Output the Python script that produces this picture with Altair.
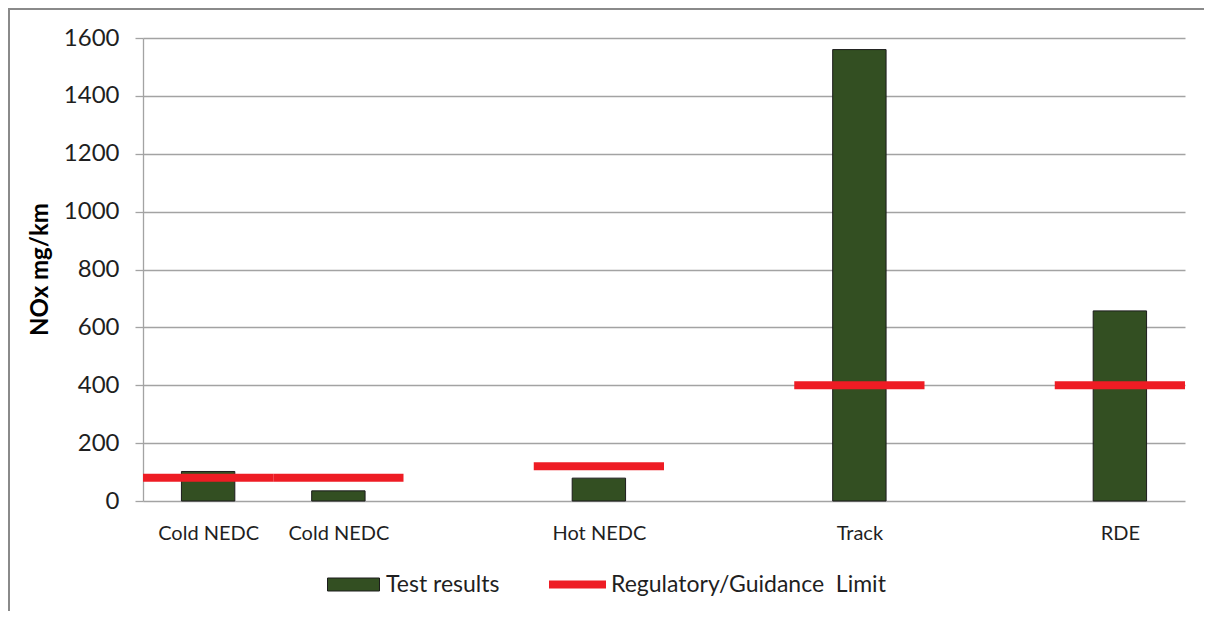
import altair as alt
import pandas as pd

# ---- data ----
slot_labels = ["Cold NEDC", "Cold NEDC", "", "Hot NEDC", "", "Track", "", "RDE"]
test_results = [102, 35, None, 79, None, 1560, None, 657]
limit_values = [80, 80, None, 120, None, 400, None, 400]
series_names = ["Test results", "Regulatory/Guidance\u00a0 Limit"]
series_colors = ["#334f22", "#ee1c24"]
y_ticks = [0, 200, 400, 600, 800, 1000, 1200, 1400, 1600]

bar_rows = [
    {"slot": i, "category": lab, "value": v, "series": series_names[0]}
    for i, (lab, v) in enumerate(zip(slot_labels, test_results)) if v is not None
]
limit_rows = [
    {"slot": i, "category": lab, "limit": v, "series": series_names[1]}
    for i, (lab, v) in enumerate(zip(slot_labels, limit_values)) if v is not None
]
df_bars = pd.DataFrame(bar_rows)
df_lim = pd.DataFrame(limit_rows)

FONT = "Lato"
GRAY = "#a3a3a3"
TXT = "#1f1f1f"

x_scale = alt.Scale(domain=[0, len(slot_labels)], nice=False, zero=False)
y_scale = alt.Scale(domain=[0, 1600], nice=False)
label_expr = "[" + ",".join("'%s'" % s for s in slot_labels) + "][floor(datum.value)]"

x_axis = alt.Axis(
    values=[i + 0.5 for i, s in enumerate(slot_labels) if s],
    labelExpr=label_expr, title=None, grid=False, ticks=False, domain=False,
    labelFont=FONT, labelFontSize=20, labelColor=TXT, labelPadding=22,
)
y_axis = alt.Axis(
    values=y_ticks, format="d", title="NOx mg/km", grid=True, gridColor=GRAY, gridWidth=1.3,
    domainColor=GRAY, domainWidth=1.3, tickColor=GRAY, tickWidth=1.3, tickSize=8,
    labelFont=FONT, labelFontSize=24, labelColor=TXT, labelPadding=16,
    titleFont=FONT, titleFontSize=24, titleFontWeight="bold", titleColor="#000000",
    titleAngle=270, titleX=-96, titleY=231, titleAlign="center", titleBaseline="alphabetic",
)

bar_legend = alt.Legend(
    title=None, orient="none", direction="horizontal", legendX=184, legendY=520,
    labelFont=FONT, labelFontSize=23, labelColor=TXT, labelOffset=6, labelLimit=400,
    symbolType="M-1,-0.25H1V0.25H-1Z", symbolSize=2704,
    symbolStrokeColor="#1c1c1c", symbolStrokeWidth=1, symbolOpacity=1,
)
lim_legend = alt.Legend(
    title=None, orient="none", direction="horizontal", legendX=402, legendY=514,
    labelFont=FONT, labelFontSize=23, labelColor=TXT, labelOffset=1, labelLimit=400,
    symbolType="stroke", symbolSize=3249, symbolStrokeWidth=8, symbolOpacity=1,
)

bars = alt.Chart(df_bars).transform_calculate(
    x0="datum.slot + 0.295", x1="datum.slot + 0.705"
).mark_bar(stroke="#1c1c1c", strokeWidth=1, opacity=1).encode(
    x=alt.X("x0:Q", scale=x_scale, axis=x_axis),
    x2="x1:Q",
    y=alt.Y("value:Q", scale=y_scale, axis=y_axis),
    y2=alt.datum(0),
    fill=alt.Fill("series:N", scale=alt.Scale(domain=[series_names[0]], range=[series_colors[0]]),
                  legend=bar_legend),
)

rules = alt.Chart(df_lim).transform_calculate(
    x0="datum.slot", x1="datum.slot + 1"
).mark_rule(strokeWidth=8, strokeCap="butt", opacity=1).encode(
    x=alt.X("x0:Q", scale=x_scale),
    x2="x1:Q",
    y=alt.Y("limit:Q", scale=y_scale),
    stroke=alt.Stroke("series:N", scale=alt.Scale(domain=[series_names[1]], range=[series_colors[1]]),
                      legend=lim_legend),
)

frame = alt.Chart(pd.DataFrame({"k": [0]})).mark_rect(
    filled=False, stroke="#8a8a8a", strokeWidth=2, clip=False
).encode(
    x=alt.value(-134), x2=alt.value(3000), y=alt.value(-29), y2=alt.value(3000)
)

chart = alt.layer(frame, bars, rules).resolve_scale(fill="independent", stroke="independent").properties(
    width=1042, height=463,
    autosize=alt.AutoSizeParams(type="none"),
    padding={"left": 135, "top": 30, "right": 19, "bottom": 110},
    background="white",
).configure_view(stroke=None)

chart.save("out.html", embed_options={"renderer": "svg", "actions": False})
